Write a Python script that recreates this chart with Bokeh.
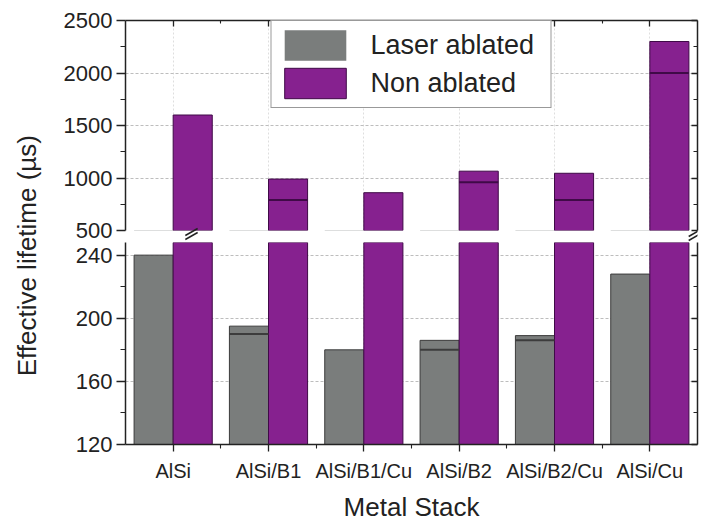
import numpy as np
from bokeh.plotting import figure
from bokeh.models import (Range1d, FixedTicker, LinearAxis, Label, Legend,
                          LegendItem, ColumnDataSource)
from bokeh.layouts import row, column
from bokeh.embed import file_html
from bokeh.resources import INLINE

# ---------------- data ----------------
cats = ["AlSi", "AlSi/B1", "AlSi/B1/Cu", "AlSi/B2", "AlSi/B2/Cu", "AlSi/Cu"]
laser_ablated = [240, 195, 180, 186, 189, 228]
laser_inner = [np.nan, 190, np.nan, 180, 186, np.nan]
non_ablated = [1600, 990, 860, 1065, 1045, 2300]
non_inner = [np.nan, 790, np.nan, 960, 790, 2000]

low_ticks = [120, 160, 200, 240]
low_minor = [140, 180, 220]
high_ticks = [500, 1000, 1500, 2000, 2500]
high_minor = [750, 1250, 1750, 2250]

# ---------------- style ----------------
FONT = "Liberation Sans"
GRAY = "#7a7d7c"
PURPLE = "#86218f"
GRAY_EDGE = "#3c3c3c"
PURPLE_EDGE = "#3f0a47"
AXIS = "#222222"
BW = 0.41

TITLE_W = 50
FRAME_W = 572
LEFT = 75
RIGHT = 3
TOP_B = 20
TOP_H = 210
GAP = 12
LOW_H = 208
BOTTOM = 74
MARK_H = 15

xpos = np.arange(1, len(cats) + 1, dtype=float)
x_range = Range1d(0.5, len(cats) + 0.5)

src = ColumnDataSource(dict(
    xg=xpos - BW / 2, xp=xpos + BW / 2,
    laser=laser_ablated, non=non_ablated,
))


def inner_src(xs0, xs1, vals):
    m = ~np.isnan(np.array(vals, dtype=float))
    return ColumnDataSource(dict(x0=np.array(xs0)[m], x1=np.array(xs1)[m],
                                 y=np.array(vals, dtype=float)[m]))


g_inner = inner_src(xpos - BW, xpos, laser_inner)
p_inner = inner_src(xpos, xpos + BW, non_inner)


def style_axis(ax, labels=True, tick_out=0, tick_in=0, minor_out=0, minor_in=0):
    ax.axis_line_color = AXIS
    ax.axis_line_width = 1.5
    ax.major_tick_line_color = AXIS
    ax.minor_tick_line_color = AXIS
    ax.major_tick_line_width = 1.3
    ax.minor_tick_line_width = 1.1
    ax.major_tick_out = tick_out
    ax.major_tick_in = tick_in
    ax.minor_tick_out = minor_out
    ax.minor_tick_in = minor_in
    ax.major_label_text_font = FONT
    ax.major_label_text_color = "#222222"
    if not labels:
        ax.major_label_text_color = None
        ax.major_label_text_font_size = "1px"
        ax.major_label_standoff = 0


def make_fig(frame_h, yr, ticks, minor, top, bottom, xloc, lower):
    p = figure(width=LEFT + FRAME_W + RIGHT, height=top + frame_h + bottom,
               x_range=x_range, y_range=yr, output_backend="svg",
               toolbar_location=None,
               min_border_left=LEFT, min_border_right=RIGHT,
               min_border_top=top, min_border_bottom=bottom,
               x_axis_location=xloc)
    p.outline_line_color = None
    p.background_fill_color = "white"
    p.border_fill_color = "white"
    # grids
    p.ygrid.ticker = FixedTicker(ticks=ticks)
    p.ygrid.grid_line_color = "#bdbdbd"
    p.ygrid.grid_line_dash = "3 2"
    p.ygrid.grid_line_width = 1
    p.xgrid.ticker = FixedTicker(ticks=list(xpos))
    p.xgrid.grid_line_color = "#dedede"
    p.xgrid.grid_line_dash = "2 2"
    # left axis
    yax = p.yaxis[0]
    yax.ticker = FixedTicker(ticks=ticks, minor_ticks=minor)
    style_axis(yax, True, 9, 0, 5, 0)
    yax.major_label_text_font_size = "22px"
    yax.major_label_standoff = 4
    # right axis
    rax = LinearAxis(ticker=FixedTicker(ticks=ticks, minor_ticks=minor))
    style_axis(rax, False, 0, 6, 0, 4)
    p.add_layout(rax, "right")
    # x axis
    xax = p.xaxis[0]
    xax.ticker = FixedTicker(ticks=list(xpos), minor_ticks=list(xpos[:-1] + 0.5))
    # bars (the laser-ablated values all lie below the upper range, so
    # there they get no outline, which would otherwise hug the frame edge)
    rg = p.vbar(x="xg", top="laser", bottom=0, width=BW, source=src,
                fill_color=GRAY, line_color=GRAY_EDGE if lower else None,
                line_width=1)
    rp = p.vbar(x="xp", top="non", bottom=0, width=BW, source=src,
                fill_color=PURPLE, line_color=PURPLE_EDGE, line_width=1)
    if lower:
        p.segment(x0="x0", x1="x1", y0="y", y1="y", source=g_inner,
                  line_color=GRAY_EDGE, line_width=2)
    p.segment(x0="x0", x1="x1", y0="y", y1="y", source=p_inner,
              line_color=PURPLE_EDGE, line_width=2)
    return p, rg, rp


# upper (broken) part
p_top, rg, rp = make_fig(TOP_H, Range1d(500, 2500), high_ticks,
                         high_minor, TOP_B, GAP, "above", False)
style_axis(p_top.xaxis[0], False, 0, 6, 0, 3)

legend = Legend(items=[LegendItem(label="Laser ablated", renderers=[rg]),
                       LegendItem(label="Non ablated", renderers=[rp])],
                location="top", margin=0, padding=5, spacing=0,
                glyph_width=77, glyph_height=38, label_standoff=17,
                label_width=175, border_line_color="#333333",
                border_line_width=1.2, background_fill_alpha=1,
                label_text_font=FONT, label_text_font_size="27px",
                label_text_color="#222222")
p_top.add_layout(legend)

# transparent overlay strip holding the axis-break marks (pixel coordinates)
p_gap = figure(width=LEFT + FRAME_W + RIGHT, height=MARK_H,
               x_range=Range1d(-LEFT, FRAME_W + RIGHT),
               y_range=Range1d(0, MARK_H), output_backend="svg",
               toolbar_location=None, min_border=0,
               x_axis_type=None, y_axis_type=None,
               margin=(-MARK_H, 0, 0, 0))
p_gap.outline_line_color = None
p_gap.background_fill_color = None
p_gap.border_fill_color = None
p_gap.grid.visible = False
brk_x = np.array([0.0, 0.0, FRAME_W, FRAME_W])
brk_y = np.array([10.5, 6.5, 9.5, 5.5])
p_gap.segment(x0=brk_x - 7, x1=brk_x + 7, y0=brk_y - 3.5, y1=brk_y + 3.5,
              line_color=AXIS, line_width=1.5)

# lower part: 40 units per 65 px
low_top = 120 + LOW_H * 40 / 65.0
p_bot, _, _ = make_fig(LOW_H, Range1d(120, low_top), low_ticks,
                       low_minor, 0, BOTTOM, "below", True)
xb = p_bot.xaxis[0]
style_axis(xb, True, 7, 0, 4, 0)
xb.major_label_overrides = {float(x): c for x, c in zip(xpos, cats)}
xb.major_label_text_font_size = "20px"
xb.major_label_standoff = 8
xb.axis_label = "Metal Stack"
xb.axis_label_text_font = FONT
xb.axis_label_text_font_size = "26px"
xb.axis_label_text_font_style = "normal"
xb.axis_label_text_color = "#222222"
xb.axis_label_standoff = 7

# y-axis title spanning both parts
TOTAL_H = TOP_B + TOP_H + GAP + LOW_H + BOTTOM
p_title = figure(width=TITLE_W, height=TOTAL_H, x_range=Range1d(0, 1),
                 y_range=Range1d(0, 1), output_backend="svg",
                 toolbar_location=None, min_border=0,
                 x_axis_type=None, y_axis_type=None)
p_title.outline_line_color = None
p_title.grid.visible = False
p_title.add_layout(Label(x=0.52, y=0.513, text="Effective lifetime (µs)",
                         angle=np.pi / 2, text_align="center",
                         text_baseline="middle", text_font=FONT,
                         text_font_size="26px", text_color="#222222"))

layout = row(p_title, column(p_top, p_gap, p_bot, spacing=0), spacing=0)

open("out.html", "w").write(file_html(layout, INLINE))
